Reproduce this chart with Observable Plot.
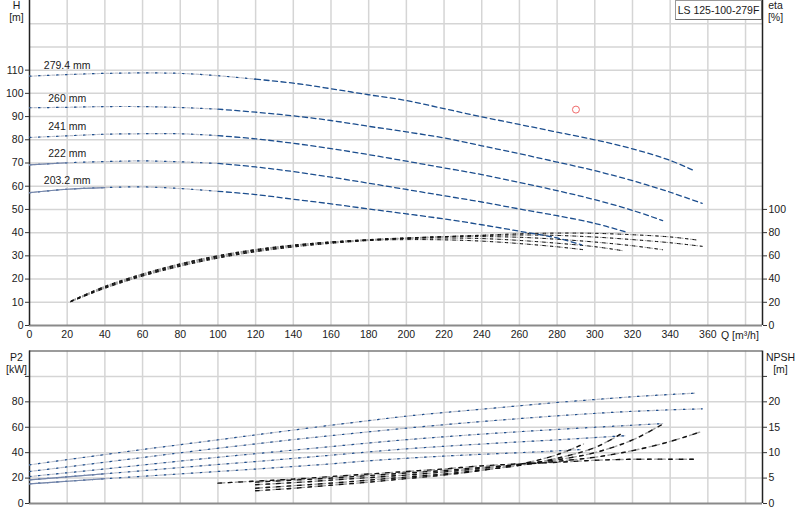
<!DOCTYPE html>
<html>
<head>
<meta charset="utf-8">
<script src="https://cdn.jsdelivr.net/npm/d3@7"></script>
<script src="https://cdn.jsdelivr.net/npm/@observablehq/plot@0.6"></script>
<style>
  html, body { margin: 0; padding: 0; background: #fff; }
  #wrap { position: relative; width: 800px; height: 520px; overflow: hidden;
          font-family: "Liberation Sans", Arial, Helvetica, sans-serif; }
  #wrap svg { display: block; }
  #title { position: absolute; left: 675px; top: 0px; width: 85px; height: 18px; white-space: nowrap;
           border: 1px solid #9a9a9a; border-right-color: #6a6a6a; border-bottom-color: #6a6a6a;
           background: #fff; font-size: 10.5px; line-height: 18px; text-align: center; color: #1a1a1a; }
</style>
</head>
<body>
<div id="wrap"><div id="title">LS 125-100-279F</div></div>
<script>
// ---------- data ----------
const diameters = ["279.4 mm", "260 mm", "241 mm", "222 mm", "203.2 mm"];

// Head H [m] vs Q [m³/h]
const h279 = [[0,107.4],[20,108.1],[40,108.6],[60,108.8],[80,108.6],[100,107.6],[120,106.1],[140,104.4],[160,102],[180,99.4],[200,96.9],[220,93.4],[240,89.9],[260,86.6],[280,83.3],[300,80],[320,76.1],[340,71.1],[353,66.6]];
const h260 = [[0,93.8],[20,94],[40,94.3],[60,94.3],[80,93.9],[100,93.2],[120,91.9],[140,90.3],[160,88.3],[180,85.8],[200,83.4],[220,80.8],[240,77.4],[260,74],[280,70.4],[300,66.7],[320,62.4],[340,57.4],[357,52.6]];
const h241 = [[0,81],[20,81.7],[40,82.4],[60,82.6],[80,82.6],[100,81.8],[120,80.4],[140,78.5],[160,76.2],[180,73.6],[200,70.8],[220,67.9],[240,65],[260,61.6],[280,58.1],[300,54.2],[320,49.6],[336,45.2]];
const h222 = [[0,69.2],[20,70.1],[40,70.6],[60,70.9],[80,70.5],[100,69.8],[120,68.3],[140,66.3],[160,63.9],[180,61.3],[200,58.6],[220,55.9],[240,53.2],[260,50.2],[280,47.3],[300,44],[316,40.4]];
const h203 = [[0,57.2],[20,58.7],[40,59.4],[60,59.7],[80,59],[100,57.8],[120,56.4],[140,54.4],[160,52.4],[180,50.2],[200,48.1],[220,45.9],[240,43.4],[260,40.6],[280,37.7],[293,34.7]];

// Efficiency eta [%]
const eta279 = [[22,20.5],[40,32],[60,42.5],[80,51],[100,58],[120,63.5],[140,67.6],[160,70.8],[180,73.2],[200,75],[220,76.5],[240,77.8],[260,79],[280,79.6],[300,79.4],[320,78.2],[340,76.3],[354,73.7]];
const eta260 = [[22,20.5],[40,32.5],[60,43],[80,51.6],[100,58.6],[120,64],[140,68.1],[160,71.2],[180,73.5],[200,75.3],[220,76.6],[240,77.5],[260,78],[280,77.6],[300,76.2],[320,74],[340,71.3],[357,68.2]];
const eta241 = [[22,20.8],[40,33],[60,43.5],[80,52.2],[100,59.2],[120,64.6],[140,68.7],[160,71.8],[180,74],[200,75.5],[220,76.4],[240,76.6],[260,76],[280,74.3],[300,71.9],[320,68.7],[336,65.3]];
const eta222 = [[22,21],[40,33.4],[60,44],[80,52.8],[100,59.8],[120,65.1],[140,69.1],[160,72],[180,73.9],[200,75],[220,75.4],[240,74.9],[260,73.3],[280,70.9],[300,67.9],[315,64.4]];
const eta203 = [[22,21.2],[40,33.8],[60,44.5],[80,53.2],[100,60.2],[120,65.5],[140,69.3],[160,71.9],[180,73.4],[200,74],[220,73.8],[240,72.7],[260,70.6],[280,67.8],[294,65.3]];

// Shaft power P2 [kW]
const p279 = [[0,30.4],[20,34.5],[40,38.5],[60,42.5],[80,46.3],[100,50.1],[120,54],[140,57.8],[160,61.6],[180,65.2],[200,68.7],[220,71.6],[240,74.2],[260,76.9],[280,79.5],[300,81.8],[320,84],[340,85.8],[353,86.8]];
const p260 = [[0,25.2],[20,28.8],[40,32.5],[60,36.2],[80,39.9],[100,43.5],[120,46.9],[140,50.3],[160,53.4],[180,56.4],[200,59.3],[220,62],[240,64.5],[260,66.8],[280,69],[300,70.9],[320,72.5],[340,73.7],[357,74.5]];
const p241 = [[0,21.2],[20,24.2],[40,27.2],[60,30.3],[80,33.4],[100,36.4],[120,39.2],[140,42],[160,44.8],[180,47.6],[200,50.2],[220,52.5],[240,54.6],[260,56.5],[280,58.3],[300,60],[320,61.6],[336,62.9]];
const p222 = [[0,18.6],[20,21],[40,23.4],[60,25.8],[80,28.3],[100,30.7],[120,33],[140,35.5],[160,38],[180,40.6],[200,43],[220,45],[240,46.8],[260,48.5],[280,50.1],[300,51.9],[316,53.3]];
const p203 = [[0,15.5],[20,17.5],[40,19.5],[60,21.4],[80,23.3],[100,25.2],[120,27.1],[140,29.1],[160,31.2],[180,33.6],[200,35.6],[220,37.3],[240,38.7],[260,40],[280,41.4],[293,42.5]];

// NPSH [m]
const n279 = [[100,4.0],[120,4.4],[140,4.8],[160,5.3],[180,5.8],[200,6.3],[220,6.8],[240,7.4],[260,7.8],[280,8.1],[300,8.5],[320,8.7],[354,8.7]];
const n260 = [[120,4.2],[140,4.6],[160,5.0],[180,5.5],[200,6.0],[220,6.5],[240,7.1],[260,7.6],[280,8.3],[300,9.1],[320,10.4],[340,12.2],[357,14.2]];
const n241 = [[120,3.7],[140,4.1],[160,4.6],[180,5.1],[200,5.6],[220,6.2],[240,6.9],[260,7.7],[280,8.6],[300,10.0],[320,12.5],[336,15.6]];
const n222 = [[120,3.0],[140,3.5],[160,4.0],[180,4.6],[200,5.2],[220,5.8],[240,6.6],[260,7.5],[280,8.9],[300,11.0],[315,13.9]];
const n203 = [[120,2.5],[140,3.0],[160,3.6],[180,4.2],[200,4.9],[220,5.6],[240,6.5],[260,7.7],[280,9.6],[294,11.7]];

// Curve section boundaries (Q where the dotted part ends / solid start ends)
const hDashFrom = [120, 100, 100, 100, 100];
const hSolidTo  = [0, 0, 0, 20, 40];
const pSolidTo  = [0, 0, 0, 40, 40];

// Duty point
const dutyQ = [290];
const dutyH = [93];

// Tick values
const qTicks = [0,20,40,60,80,100,120,140,160,180,200,220,240,260,280,300,320,340,360];
const qGrid = [20,40,60,80,100,120,140,160,180,200,220,240,260,280,300,320,340,360,380];
const hTicks = [0,10,20,30,40,50,60,70,80,90,100,110];
const hGrid = [10,20,30,40,50,60,70,80,90,100,110,120,130];
const etaTicks = [0,20,40,60,80,100];
const p2Ticks = [0,20,40,60,80];
const p2Grid = [20,40,60,80,100];
const npshTicks = [0,5,10,15,20];

(function () {
// ---------- build tables ----------
const hS = [h279, h260, h241, h222, h203];
const etaS = [eta279, eta260, eta241, eta222, eta203];
const pS = [p279, p260, p241, p222, p203];
const nS = [n279, n260, n241, n222, n203];
const rows = (S) => S.flatMap((arr, i) => arr.map(([q, v]) => ({d: diameters[i], i, q, v})));
const hRows = rows(hS), etaRows = rows(etaS), pRows = rows(pS), nRows = rows(nS);

const hDotted = hRows.filter(r => r.q <= hDashFrom[r.i]);
const hDashed = hRows.filter(r => r.q >= hDashFrom[r.i]);
const hSolid = hRows.filter(r => hSolidTo[r.i] > 0 && r.q <= hSolidTo[r.i]);
const pSolid = pRows.filter(r => pSolidTo[r.i] > 0 && r.q <= pSolidTo[r.i]);
const labelRows = diameters.map((d, i) => ({d, q: 20, v: hS[i].find(p => p[0] === 20)[1]}));
const duty = dutyQ.map((q, i) => ({q, h: dutyH[i]}));

// ---------- styling ----------
const font = "'Liberation Sans', Arial, Helvetica, sans-serif";
const blue = "#1c4e8e";
const lightDot = "#bcc0cc";
const gridC = "#d5d5d5";
const xMax = 389;
const common = {
  width: 800, marginLeft: 29, marginRight: 38,
  style: {fontFamily: font, fontSize: "10.5px", color: "#1a1a1a", background: "transparent", overflow: "visible"}
};
const curve = "catmull-rom";

const dottedLine = (data, y) => [
  Plot.line(data, {x: "q", y, z: "d", curve, stroke: lightDot, strokeWidth: 1.2, strokeDasharray: "3,1.5"}),
  Plot.line(data, {x: "q", y, z: "d", curve, stroke: blue, strokeWidth: 1.2, strokeDasharray: "1.5,7.5"})
];
const blackGrey = (data, y, w, dash) => [
  Plot.line(data, {x: "q", y, z: "d", curve, stroke: "#a0a0a0", strokeWidth: w, strokeDasharray: `${dash},${dash}`, strokeDashoffset: dash}),
  Plot.line(data, {x: "q", y, z: "d", curve, stroke: "#111", strokeWidth: w, strokeDasharray: `${dash},${dash * 2}`})
];

// ---------- top chart: H and eta ----------
const chartTop = Plot.plot({
  ...common,
  height: 345, marginTop: 0, marginBottom: 20,
  x: {domain: [0, xMax], axis: null},
  y: {domain: [0, 140], axis: null},
  marks: [
    Plot.ruleX(qGrid, {stroke: gridC, strokeWidth: 1.5}),
    Plot.ruleY(hGrid, {stroke: gridC, strokeWidth: 1.5}),
    Plot.ruleY([0], {stroke: "#8a8a8a", strokeWidth: 2}),
    Plot.ruleX([0], {stroke: "#222", strokeWidth: 1.5}),
    Plot.ruleX([xMax], {stroke: "#222", strokeWidth: 1.5}),
    ...blackGrey(etaRows, d => d.v / 2, 1, 2.5),
    ...dottedLine(hDotted, "v"),
    Plot.line(hDashed, {x: "q", y: "v", z: "d", curve, stroke: blue, strokeWidth: 1.3, strokeDasharray: "5,3.5"}),
    Plot.line(hSolid, {x: "q", y: "v", z: "d", curve, stroke: "#7486ab", strokeWidth: 1.2}),
    Plot.text(labelRows, {x: "q", y: "v", text: "d", dy: -9, textAnchor: "middle", fill: "#1a1a1a"}),
    Plot.dot(duty, {x: "q", y: "h", r: 3.5, stroke: "#f06a6a", fill: "none", strokeWidth: 1}),
    Plot.axisY(hTicks, {anchor: "left", tickSize: 4, tickPadding: 2, stroke: "#333", label: null}),
    Plot.axisY(etaTicks.map(e => e / 2), {anchor: "right", tickSize: 4, tickPadding: 2, stroke: "#333", tickFormat: d => d * 2, label: null}),
    Plot.axisX(qTicks, {anchor: "bottom", tickSize: 0, tickPadding: 5, label: null}),
    Plot.text(["Q [m³/h]"], {x: 377, y: 0, dy: 10, textAnchor: "middle", lineAnchor: "middle", fill: "#1a1a1a"}),
    Plot.text(["H\n[m]"], {frameAnchor: "top-left", dx: -13, dy: 0, textAnchor: "middle", lineAnchor: "top", lineHeight: 1.15, fill: "#1a1a1a"}),
    Plot.text(["eta\n[%]"], {frameAnchor: "top-right", dx: 13, dy: 0, textAnchor: "middle", lineAnchor: "top", lineHeight: 1.15, fill: "#1a1a1a"})
  ]
});

// ---------- bottom chart: P2 and NPSH ----------
const chartBottom = Plot.plot({
  ...common,
  height: 175, marginTop: 5.5, marginBottom: 17,
  x: {domain: [0, xMax], axis: null},
  y: {domain: [0, 120], axis: null},
  marks: [
    Plot.ruleX(qGrid, {stroke: gridC, strokeWidth: 1.5}),
    Plot.ruleY(p2Grid, {stroke: gridC, strokeWidth: 1.5}),
    Plot.ruleY([120], {stroke: "#7a7a7a", strokeWidth: 1.5}),
    Plot.ruleY([0], {stroke: "#8a8a8a", strokeWidth: 2}),
    Plot.ruleX([0], {stroke: "#222", strokeWidth: 1.5}),
    Plot.ruleX([xMax], {stroke: "#222", strokeWidth: 1.5}),
    ...dottedLine(pRows, "v"),
    Plot.line(pSolid, {x: "q", y: "v", z: "d", curve, stroke: "#7486ab", strokeWidth: 1.2}),
    ...blackGrey(nRows, d => d.v * 4, 1.4, 3.5),
    Plot.axisY(p2Ticks, {anchor: "left", tickSize: 4, tickPadding: 2, stroke: "#333", label: null}),
    Plot.axisY([100], {anchor: "left", tickSize: 4, stroke: "#333", tickFormat: () => "", label: null}),
    Plot.axisY(npshTicks.map(n => n * 4), {anchor: "right", tickSize: 4, tickPadding: 2, stroke: "#333", tickFormat: d => d / 4, label: null}),
    Plot.axisY([100], {anchor: "right", tickSize: 4, stroke: "#333", tickFormat: () => "", label: null}),
    Plot.text(["P2\n[kW]"], {frameAnchor: "top-left", dx: -13, dy: 1, textAnchor: "middle", lineAnchor: "top", lineHeight: 1.15, fill: "#1a1a1a"}),
    Plot.text(["NPSH\n[m]"], {frameAnchor: "top-right", dx: 18, dy: 1, textAnchor: "middle", lineAnchor: "top", lineHeight: 1.15, fill: "#1a1a1a"})
  ]
});

const wrap = document.getElementById("wrap");
wrap.insertBefore(chartBottom, wrap.firstChild);
wrap.insertBefore(chartTop, chartBottom);
})();
</script>
</body>
</html>
